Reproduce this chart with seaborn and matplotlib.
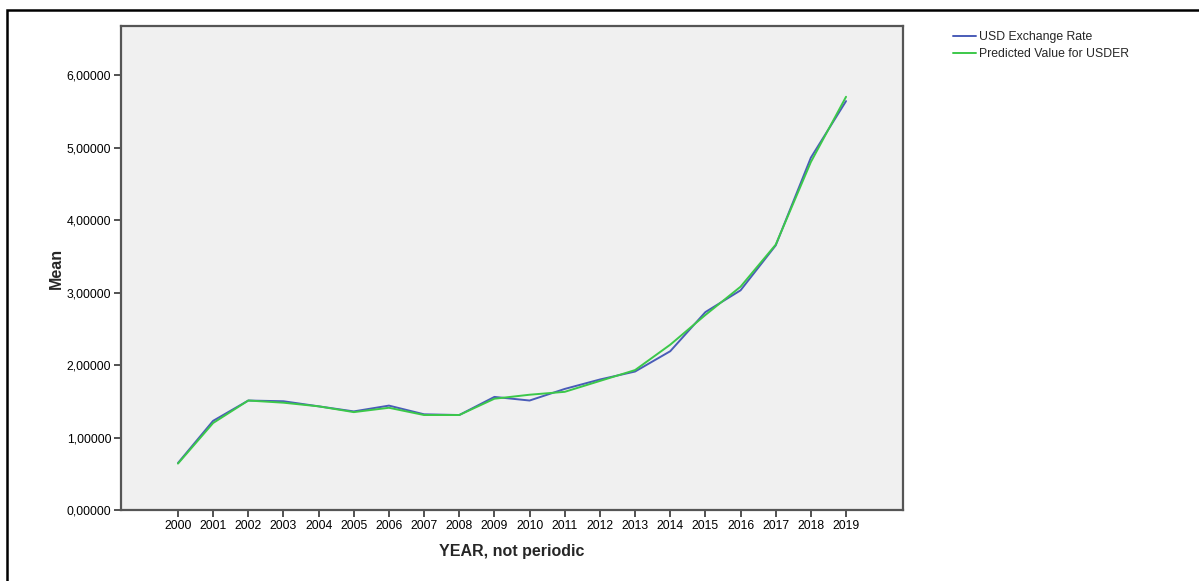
import pandas as pd
import matplotlib.pyplot as plt
import matplotlib.patches as mpatches
import seaborn as sns

years = list(range(2000, 2020))
usd_rate = [0.648, 1.23, 1.51, 1.50, 1.43, 1.36, 1.44, 1.32, 1.31, 1.56,
            1.51, 1.67, 1.80, 1.91, 2.19, 2.73, 3.03, 3.65, 4.86, 5.64]
predicted = [0.64, 1.20, 1.51, 1.48, 1.43, 1.35, 1.41, 1.31, 1.31, 1.535,
             1.59, 1.63, 1.78, 1.93, 2.28, 2.69, 3.08, 3.66, 4.80, 5.70]

df = pd.DataFrame({'year': years * 2,
                   'value': usd_rate + predicted,
                   'series': ['USD Exchange Rate'] * 20 + ['Predicted Value for USDER'] * 20})

sns.set_theme(style='white')
plt.rcParams['font.family'] = ['Liberation Sans', 'DejaVu Sans']

fig = plt.figure(figsize=(11.99, 5.81), dpi=100)
ax = fig.add_axes([121 / 1199, 1 - 510 / 581, (903 - 121) / 1199, (510 - 26) / 581])
ax.set_facecolor('#f0f0f0')

sns.lineplot(data=df, x='year', y='value', hue='series',
             palette={'USD Exchange Rate': '#4a5cb8', 'Predicted Value for USDER': '#3cc84a'},
             linewidth=1.4, ax=ax, legend=False)

ax.set_xlim(1998.38, 2020.62)
ax.set_ylim(0, 6.676)
ax.set_xticks(years)
ax.set_xticklabels([str(y) for y in years], fontsize=8.8)
ax.set_yticks([0, 1, 2, 3, 4, 5, 6])
ax.set_yticklabels([f'{v},00000' for v in range(7)], fontsize=8.8)
ax.tick_params(axis='both', direction='out', length=5, width=1.2, color='#333333',
               bottom=True, left=True, pad=2, labelcolor='black')
for s in ax.spines.values():
    s.set_color('#555555')
    s.set_linewidth(1.6)

ax.set_xlabel('YEAR, not periodic', fontsize=11.5, fontweight='bold', labelpad=9)
ax.set_ylabel('Mean', fontsize=11.5, fontweight='bold', labelpad=2)

# legend outside, top right
handles = [plt.Line2D([], [], color='#4a5cb8', lw=1.4),
           plt.Line2D([], [], color='#3cc84a', lw=1.4)]
fig.legend(handles, ['USD Exchange Rate', 'Predicted Value for USDER'],
           loc='upper left', bbox_to_anchor=(948 / 1199, 1 - 26 / 581),
           frameon=False, fontsize=8.8, handlelength=1.9, handletextpad=0.25,
           labelspacing=0.45, borderaxespad=0)

# outer frame
fig.patches.append(mpatches.Rectangle((7 / 1199, -0.05), 1.2, 1 - 10 / 581 + 0.05,
                                      transform=fig.transFigure, fill=False,
                                      edgecolor='black', linewidth=1.8, zorder=10))

fig.savefig('out.png', dpi=100)
